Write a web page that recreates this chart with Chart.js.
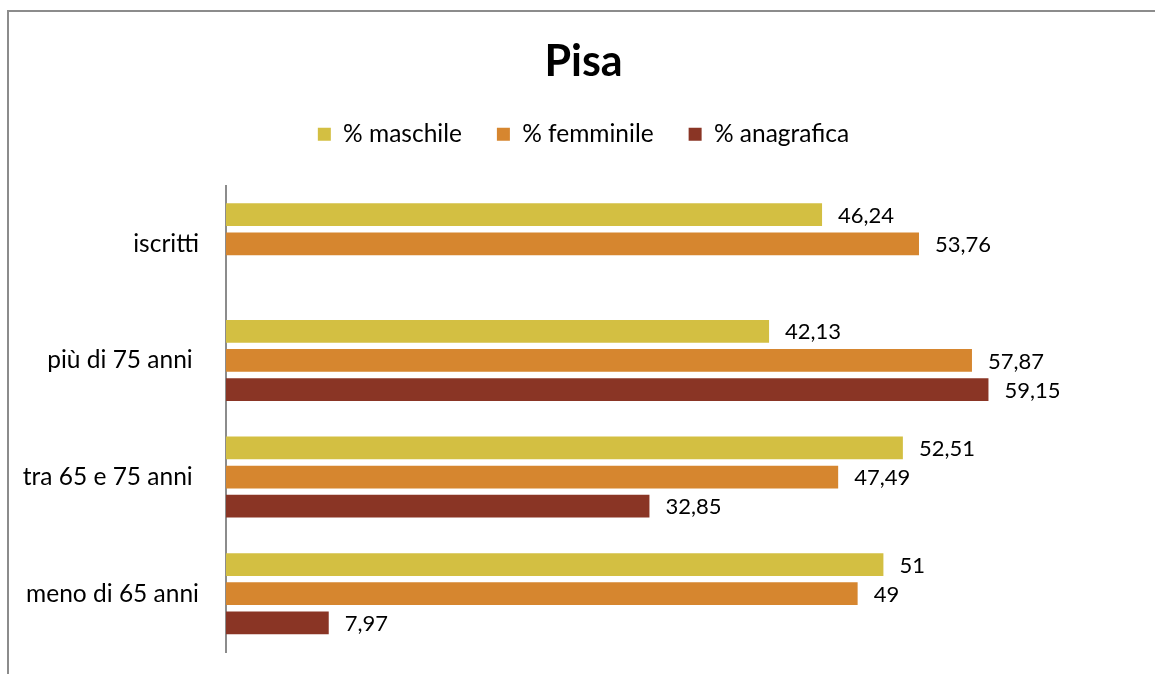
<!DOCTYPE html>
<html>
<head>
<meta charset="utf-8">
<script src="https://cdn.jsdelivr.net/npm/chart.js@4/dist/chart.umd.min.js"></script>
<style>
    body { margin: 0; background: #fff; overflow: hidden; }
    #wrap { position: relative; width: 1155px; height: 674px; overflow: hidden; }
    #frame { position: absolute; left: 7px; top: 10px; width: 1200px; height: 700px; border: 2px solid #8c8c8c; }
    #myChart { position: absolute; left: 0; top: 0; }
</style>
</head>
<body>
<div id="wrap">
    <div id="frame"></div>
    <canvas id="myChart" width="1167" height="674"></canvas>
</div>
<script>
// dati del grafico
const categorie = ['iscritti', 'più di 75 anni ', 'tra 65 e 75 anni ', 'meno di 65 anni']
const maschile = [46.24, 42.13, 52.51, 51]
const femminile = [53.76, 57.87, 47.49, 49]
const anagrafica = [null, 59.15, 32.85, 7.97]
const nomiSerie = ['% maschile', '% femminile', '% anagrafica']

const canvas = document.getElementById('myChart')
const ctx = canvas.getContext('2d')

const FONT = 'Lato'

// etichette dei valori a destra delle barre
const etichetteValori = {
    id: 'etichetteValori',
    afterDatasetsDraw(chart) {
        const c = chart.ctx
        c.save()
        c.font = '22px ' + FONT
        c.fillStyle = '#000'
        c.textAlign = 'left'
        c.textBaseline = 'middle'
        chart.data.datasets.forEach((ds, i) => {
            chart.getDatasetMeta(i).data.forEach((bar, j) => {
                const v = ds.data[j]
                if (v === null) return
                c.fillText(String(v).replace('.', ','), bar.x + 16, bar.y + 1)
            })
        })
        c.restore()
    }
}

const data = {
    labels: categorie,
    datasets: [
        { label: nomiSerie[0], data: maschile, backgroundColor: '#d3bf42' },
        { label: nomiSerie[1], data: femminile, backgroundColor: '#d6862f' },
        { label: nomiSerie[2], data: anagrafica, backgroundColor: '#8a3525' }
    ]
}

new Chart(ctx, {
    type: 'bar',
    data: data,
    plugins: [etichetteValori],
    options: {
        indexAxis: 'y',
        responsive: false,
        animation: false,
        categoryPercentage: 0.75,
        barPercentage: 0.78,
        layout: { padding: { left: 0, right: 0, top: 0, bottom: 22 } },
        plugins: {
            title: {
                display: true,
                text: 'Pisa',
                color: '#000',
                font: { family: FONT, size: 43, weight: 'bold', lineHeight: 1 },
                padding: { top: 41, bottom: 3 }
            },
            legend: {
                labels: {
                    color: '#000',
                    font: { family: FONT, size: 24.5 },
                    boxWidth: 13,
                    boxHeight: 13,
                    padding: 35
                }
            },
            tooltip: { enabled: false }
        },
        scales: {
            x: {
                position: 'top',
                min: 0,
                max: 73,
                ticks: { display: false },
                grid: { display: false },
                border: { display: false },
                afterFit: s => { s.height = 29 }
            },
            y: {
                grid: { display: false },
                border: { color: '#8c8c8c', width: 2 },
                ticks: {
                    color: '#000',
                    font: { family: FONT, size: 24.5 },
                    padding: 19
                },
                afterFit: s => {
                    s.width = 226
                    s.paddingTop = 0
                    s.paddingBottom = 0
                }
            }
        }
    }
})
</script>
</body>
</html>
